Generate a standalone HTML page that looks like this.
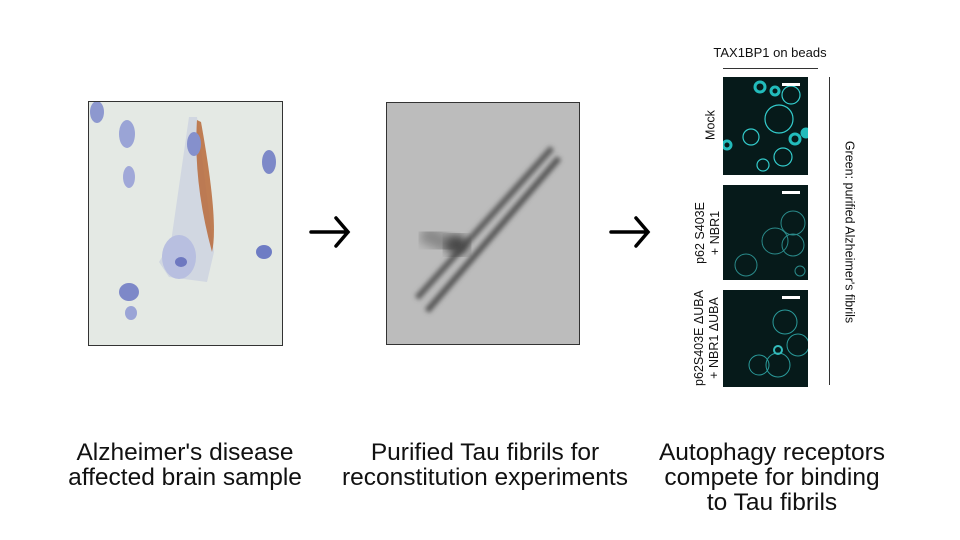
<!DOCTYPE html>
<html><head><meta charset="utf-8"><style>
body{margin:0;width:960px;height:540px;background:#fff;position:relative;overflow:hidden;font-family:"Liberation Sans",Arial,sans-serif;color:#111}
.abs{position:absolute}
.cap{position:absolute;text-align:center;font-size:24.5px;line-height:25px;white-space:nowrap}
.rot{position:absolute;transform:translate(-50%,-50%) rotate(-90deg);white-space:nowrap;text-align:center;font-size:12.5px;line-height:15px}
.pan{position:absolute;left:723px;width:85px;background:#061a1a;overflow:hidden}
.bar{position:absolute;right:8px;top:6px;width:18px;height:3px;background:#fff}
</style></head><body>
<div class="abs" style="left:88px;top:101px;width:193px;height:243px;border:1px solid #333;background:#e6ebe6;overflow:hidden">
<svg width="193" height="243">
<rect width="193" height="243" fill="#e4e9e4"/>
<path d="M100 15 L82 140 L70 160 L80 175 L118 180 L125 150 L108 15 Z" fill="#ccd2e0" opacity="0.8"/>
<path d="M108 18 Q104 80 123 150 Q130 120 112 20 Z" fill="#b86a3a" opacity="0.85"/>
<ellipse cx="90" cy="155" rx="17" ry="22" fill="#b8bfe0"/>
<ellipse cx="92" cy="160" rx="6" ry="5" fill="#6e78c0"/>
<ellipse cx="8" cy="10" rx="7" ry="11" fill="#8d98cf"/>
<ellipse cx="38" cy="32" rx="8" ry="14" fill="#9aa4d6"/>
<ellipse cx="105" cy="42" rx="7" ry="12" fill="#8590cc"/>
<ellipse cx="40" cy="75" rx="6" ry="11" fill="#a0a8d8"/>
<ellipse cx="180" cy="60" rx="7" ry="12" fill="#7d89c8"/>
<ellipse cx="175" cy="150" rx="8" ry="7" fill="#6e7cc4"/>
<ellipse cx="40" cy="190" rx="10" ry="9" fill="#7d88c8"/>
<ellipse cx="42" cy="211" rx="6" ry="7" fill="#9aa4d6"/>
</svg></div>
<svg class="abs" style="left:308px;top:212px" width="45" height="40"><path d="M3 20 H40 M28 6 L40 20 L28 34" stroke="#000" stroke-width="3.5" fill="none" stroke-linecap="round"/></svg>
<div class="abs" style="left:386px;top:102px;width:192px;height:241px;border:1px solid #333;background:#bdbdbd;overflow:hidden">
<svg width="192" height="241">
<defs><filter id="b"><feGaussianBlur stdDeviation="5"/></filter><filter id="b2"><feGaussianBlur stdDeviation="2.5"/></filter></defs>
<rect width="192" height="241" fill="#bcbcbc"/>
<path d="M35 130 L70 145" stroke="#888" stroke-width="18" filter="url(#b)"/>
<path d="M30 195 L165 45" stroke="#5a5a5a" stroke-width="6" filter="url(#b2)"/>
<path d="M40 208 L172 55" stroke="#555" stroke-width="6" filter="url(#b2)"/>
<ellipse cx="70" cy="142" rx="12" ry="10" fill="#444" filter="url(#b)"/>
</svg></div>
<svg class="abs" style="left:608px;top:212px" width="45" height="40"><path d="M3 20 H40 M28 6 L40 20 L28 34" stroke="#000" stroke-width="3.5" fill="none" stroke-linecap="round"/></svg>
<div class="abs" style="left:700px;top:45px;width:140px;text-align:center;font-size:13px">TAX1BP1 on beads</div>
<div class="abs" style="left:723px;top:68px;width:95px;height:1px;background:#333"></div>
<div class="abs" style="left:829px;top:77px;width:1px;height:308px;background:#333"></div>
<div class="pan" style="top:77px;height:98px"><svg width="85" height="98">
<g fill="none" stroke="#3cc" stroke-width="1.2">
<circle cx="56" cy="42" r="14"/><circle cx="68" cy="18" r="9"/><circle cx="28" cy="60" r="8"/><circle cx="60" cy="80" r="9"/><circle cx="40" cy="88" r="6"/>
</g><g fill="none" stroke="#2bb" stroke-width="3"><circle cx="37" cy="10" r="5"/><circle cx="52" cy="14" r="4"/><circle cx="72" cy="62" r="5"/><circle cx="4" cy="68" r="4"/><circle cx="83" cy="56" r="4" fill="#2bb"/></g></svg><div class="bar"></div></div>
<div class="pan" style="top:185px;height:95px"><svg width="85" height="95">
<g fill="none" stroke="#2a8a8a" stroke-width="1"><circle cx="70" cy="38" r="12"/><circle cx="52" cy="56" r="13"/><circle cx="70" cy="60" r="11"/><circle cx="23" cy="80" r="11"/><circle cx="77" cy="86" r="5"/></g></svg><div class="bar"></div></div>
<div class="pan" style="top:290px;height:97px"><svg width="85" height="97">
<g fill="none" stroke="#2a9a9a" stroke-width="1"><circle cx="62" cy="32" r="12"/><circle cx="75" cy="55" r="11"/><circle cx="55" cy="75" r="12"/><circle cx="36" cy="75" r="10"/><circle cx="55" cy="60" r="4" stroke="#3bb" stroke-width="2"/></g></svg><div class="bar"></div></div>
<div class="rot" style="left:711px;top:125px">Mock</div>
<div class="rot" style="left:708px;top:233px">p62 S403E<br>+ NBR1</div>
<div class="rot" style="left:707px;top:338px">p62S403E ΔUBA<br>+ NBR1 ΔUBA</div>
<div class="rot" style="left:849px;top:232px;transform:translate(-50%,-50%) rotate(90deg)">Green: purified Alzheimer's fibrils</div>
<div class="cap" style="left:35px;top:440px;width:300px">Alzheimer's disease<br>affected brain sample</div>
<div class="cap" style="left:315px;top:440px;width:340px">Purified Tau fibrils for<br>reconstitution experiments</div>
<div class="cap" style="left:622px;top:440px;width:300px">Autophagy receptors<br>compete for binding<br>to Tau fibrils</div>
</body></html>
